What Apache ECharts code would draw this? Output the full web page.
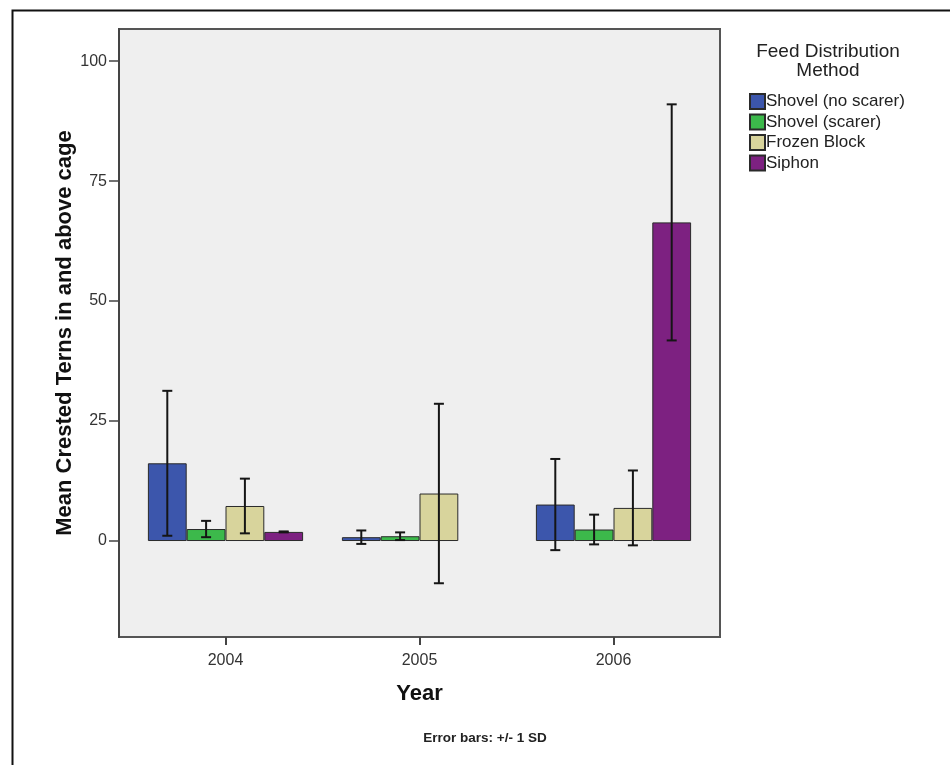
<!DOCTYPE html>
<html>
<head>
<meta charset="utf-8">
<script src="https://cdn.jsdelivr.net/npm/echarts@6/dist/echarts.min.js"></script>
<style>html,body{margin:0;padding:0;background:#fff;}#c{width:950px;height:765px;}</style>
</head>
<body>
<div id="c"></div>
<script>
var years = ['2004', '2005', '2006'];
var methods = ['Shovel (no scarer)', 'Shovel (scarer)', 'Frozen Block', 'Siphon'];
var colors = ['#3c56ac', '#3cb94b', '#d8d49c', '#7d2181'];
var meanNoScarer = [16.2, 0.8, 7.6];
var meanScarer = [2.5, 1.0, 2.4];
var meanFrozen = [7.3, 9.9, 6.9];
var meanSiphon = [1.9, null, 66.4];
var sdNoScarer = [15.1, 1.4, 9.5];
var sdScarer = [1.7, 0.8, 3.1];
var sdFrozen = [5.7, 18.7, 7.8];
var sdSiphon = [0.1, null, 24.6];
var yTicks = [0, 25, 50, 75, 100];

var means = [meanNoScarer, meanScarer, meanFrozen, meanSiphon];
var sds = [sdNoScarer, sdScarer, sdFrozen, sdSiphon];
var gapRatio = 0.2;

var errData = [];
for (var s = 0; s < methods.length; s++) {
  for (var i = 0; i < years.length; i++) {
    if (means[s][i] == null) continue;
    errData.push([i, s, means[s][i] - sds[s][i], means[s][i] + sds[s][i]]);
  }
}

var chart = echarts.init(document.getElementById('c'));
var font = 'Liberation Sans, Arial, sans-serif';
var series = methods.map(function (m, s) {
  return {
    name: m, type: 'bar', xAxisIndex: 0, yAxisIndex: 0,
    data: means[s],
    barGap: '0%', barCategoryGap: (gapRatio * 100) + '%',
    itemStyle: { color: colors[s], borderColor: '#2a2a2a', borderWidth: 1 },
    emphasis: { disabled: true }
  };
});
series.push({
  type: 'custom', xAxisIndex: 0, yAxisIndex: 0, z: 10,
  data: errData,
  encode: { x: 0, y: [2, 3] },
  renderItem: function (params, api) {
    var ci = api.value(0), si = api.value(1);
    var lo = api.coord([ci, api.value(2)]);
    var hi = api.coord([ci, api.value(3)]);
    var bandW = api.size([1, 0])[0];
    var barW = bandW * (1 - gapRatio) / methods.length;
    var x = lo[0] + (si - (methods.length - 1) / 2) * barW;
    var cap = 5;
    var st = { stroke: '#151515', lineWidth: 2 };
    return {
      type: 'group',
      children: [
        { type: 'line', shape: { x1: x, y1: lo[1], x2: x, y2: hi[1] }, style: st },
        { type: 'line', shape: { x1: x - cap, y1: lo[1], x2: x + cap, y2: lo[1] }, style: st },
        { type: 'line', shape: { x1: x - cap, y1: hi[1], x2: x + cap, y2: hi[1] }, style: st }
      ]
    };
  }
});

chart.setOption({
  animation: false,
  backgroundColor: '#ffffff',
  textStyle: { fontFamily: font },
  graphic: [{
    type: 'rect', left: 10, top: 8, z: -10,
    shape: { width: 1000, height: 800 },
    style: { fill: 'none', stroke: '#111', lineWidth: 2 }
  }],
  title: [{
    text: 'Feed Distribution\nMethod',
    left: 828, top: 42, textAlign: 'center', padding: 0,
    textStyle: { fontSize: 19, fontWeight: 'normal', color: '#222', lineHeight: 19, fontFamily: font }
  }, {
    text: 'Error bars: +/- 1 SD',
    left: 485, top: 731, textAlign: 'center', padding: 0,
    textStyle: { fontSize: 13.5, fontWeight: 'bold', color: '#222', fontFamily: font }
  }],
  legend: {
    orient: 'vertical', left: 749, top: 93, padding: 0,
    icon: 'rect',
    itemWidth: 15, itemHeight: 15, itemGap: 3.5,
    data: methods,
    textStyle: { fontSize: 17, lineHeight: 15, color: '#222', padding: [0, 0, 0, -4], fontFamily: font },
    selectedMode: false
  },
  grid: [
    { left: 128.5, right: 239.5, top: 29, bottom: 128 },
    { left: 119, right: 230, top: 29, bottom: 128, show: true,
      backgroundColor: '#efefef', borderColor: '#555', borderWidth: 2, z: -1 }
  ],
  xAxis: [{
    type: 'category', gridIndex: 0, data: years,
    axisLine: { show: false, onZero: false },
    axisTick: { show: true, alignWithLabel: true, length: 8, lineStyle: { color: '#444', width: 2 } },
    axisLabel: { fontSize: 16, color: '#333', margin: 16 },
    name: 'Year', nameLocation: 'middle', nameGap: 46, nameMoveOverlap: false,
    nameTextStyle: { fontSize: 22, fontWeight: 'bold', color: '#111' }
  }, {
    type: 'value', gridIndex: 1, show: false, min: 0, max: 1
  }],
  yAxis: [{
    type: 'value', gridIndex: 0, min: -20, max: 106.7, offset: 9.5,
    axisLine: { show: true, lineStyle: { color: '#444', width: 2 } },
    axisTick: { show: true, customValues: yTicks, length: 10, lineStyle: { color: '#444', width: 1.5 } },
    axisLabel: { customValues: yTicks, fontSize: 16, color: '#333', margin: 12 },
    splitLine: { show: false },
    name: 'Mean Crested Terns in and above cage', nameLocation: 'middle', nameGap: 43, nameMoveOverlap: false,
    nameTextStyle: { fontSize: 22, fontWeight: 'bold', color: '#111' }
  }, {
    type: 'value', gridIndex: 1, show: false, min: 0, max: 1
  }],
  series: series
});
</script>
</body>
</html>
